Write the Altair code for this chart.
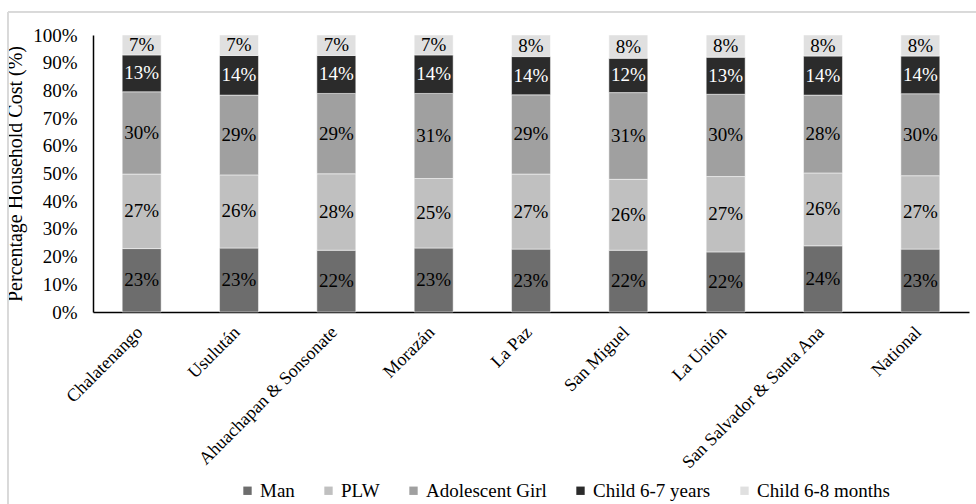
import altair as alt
import pandas as pd

regions = ["Chalatenango", "Usulután", "Ahuachapan & Sonsonate", "Morazán", "La Paz",
           "San Miguel", "La Unión", "San Salvador & Santa Ana", "National"]
groups = ["Man", "PLW", "Adolescent Girl", "Child 6-7 years", "Child 6-8 months"]
colors = ["#6d6d6d", "#c0c0c0", "#a0a0a0", "#2b2b2b", "#e0e0e0"]

man = [22.9, 23.1, 22.3, 23.1, 22.7, 22.3, 21.7, 23.9, 22.7]
plw = [26.9, 26.4, 27.6, 25.1, 27.1, 25.6, 27.2, 26.3, 26.5]
adolescent = [29.7, 28.8, 29.0, 30.7, 28.6, 31.3, 29.7, 28.1, 29.6]
child_years = [13.3, 14.3, 13.7, 13.9, 13.8, 12.4, 13.4, 14.1, 13.6]
child_months = [7.2, 7.4, 7.4, 7.2, 7.8, 8.4, 8.0, 7.6, 7.6]

series = [man, plw, adolescent, child_years, child_months]
rows = []
for gi, (g, vals) in enumerate(zip(groups, series)):
    for r, v in zip(regions, vals):
        rows.append({"region": r, "group": g, "idx": gi, "value": v})
df = pd.DataFrame(rows)

FONT = "Liberation Serif"

base = alt.Chart(df).transform_stack(
    stack="value", groupby=["region"], as_=["v0", "v1"],
    sort=[alt.SortField("idx", order="ascending")]
).transform_calculate(
    mid="(datum.v0 + datum.v1) / 2",
    label="format(datum.value, '.0f') + '%'"
)

x_axis = alt.Axis(labelAngle=-45, labelAlign="right", labelBaseline="top",
                  labelFont=FONT, labelFontSize=18, labelColor="#000000",
                  labelLimit=0, labelOverlap=False,
                  ticks=False, labelPadding=11, labelOffset=-8,
                  domainColor="#000000", domainWidth=1.5)
x_scale = alt.Scale(paddingInner=0.6, paddingOuter=0.3)

y_axis = alt.Axis(values=list(range(0, 101, 10)), labelExpr="datum.value + '%'",
                  grid=False, ticks=False, labelPadding=16, labelOverlap=False,
                  labelFont=FONT, labelFontSize=19, labelColor="#000000",
                  titleFont=FONT, titleFontSize=20, titleFontWeight="normal",
                  titleColor="#000000", titlePadding=7,
                  domainColor="#000000", domainWidth=1.5)
y_scale = alt.Scale(domain=[0, 100], nice=False)
y_title = "Percentage Household Cost (%)"

bars = base.mark_bar(stroke="white", strokeWidth=0.5).encode(
    x=alt.X("region:N", sort=regions, title=None, scale=x_scale, axis=x_axis),
    y=alt.Y("v0:Q", title=y_title, scale=y_scale, axis=y_axis),
    y2="v1:Q",
    color=alt.Color("group:N", sort=groups,
                    scale=alt.Scale(domain=groups, range=colors),
                    legend=alt.Legend(title=None, orient="none", direction="horizontal",
                                      legendX=145, legendY=446, padding=0,
                                      symbolType="square", symbolSize=70,
                                      symbolStrokeWidth=0, labelFont=FONT,
                                      labelFontSize=19, labelColor="#000000",
                                      columnPadding=24, labelOffset=3, labelLimit=0)),
    order=alt.Order("idx:Q", sort="ascending"),
)

text_enc = dict(
    x=alt.X("region:N", sort=regions, title=None, scale=x_scale, axis=x_axis),
    y=alt.Y("mid:Q", title=y_title, scale=y_scale, axis=y_axis),
    text="label:N",
)
texts_dark = base.transform_filter(alt.datum.group != "Child 6-7 years").mark_text(
    font=FONT, fontSize=19, color="black").encode(**text_enc)
texts_light = base.transform_filter(alt.datum.group == "Child 6-7 years").mark_text(
    font=FONT, fontSize=19, color="white").encode(**text_enc)

# light frame around the chart (top and left edges as in the reference)
frame_top = alt.Chart(df).mark_rule(color="#d9d9d9", strokeWidth=1).encode(
    x=alt.value(-85), x2=alt.value(883), y=alt.value(-23))
frame_left = alt.Chart(df).mark_rule(color="#d9d9d9", strokeWidth=1).encode(
    x=alt.value(-85), y=alt.value(-23), y2=alt.value(469))

chart = alt.layer(frame_top, frame_left, bars, texts_dark, texts_light).properties(
    width=876, height=277,
    padding={"left": 93, "top": 35, "right": 7, "bottom": 192},
    autosize=alt.AutoSizeParams(type="none"),
    background="white",
).configure(font=FONT).configure_view(stroke=None).configure_legend(
    labelFont=FONT, labelFontSize=19, labelColor="#000000",
    symbolSize=70, symbolType="square", columnPadding=24, labelOffset=3,
)

chart.save("out.html", embed_options={"renderer": "svg", "actions": False})
